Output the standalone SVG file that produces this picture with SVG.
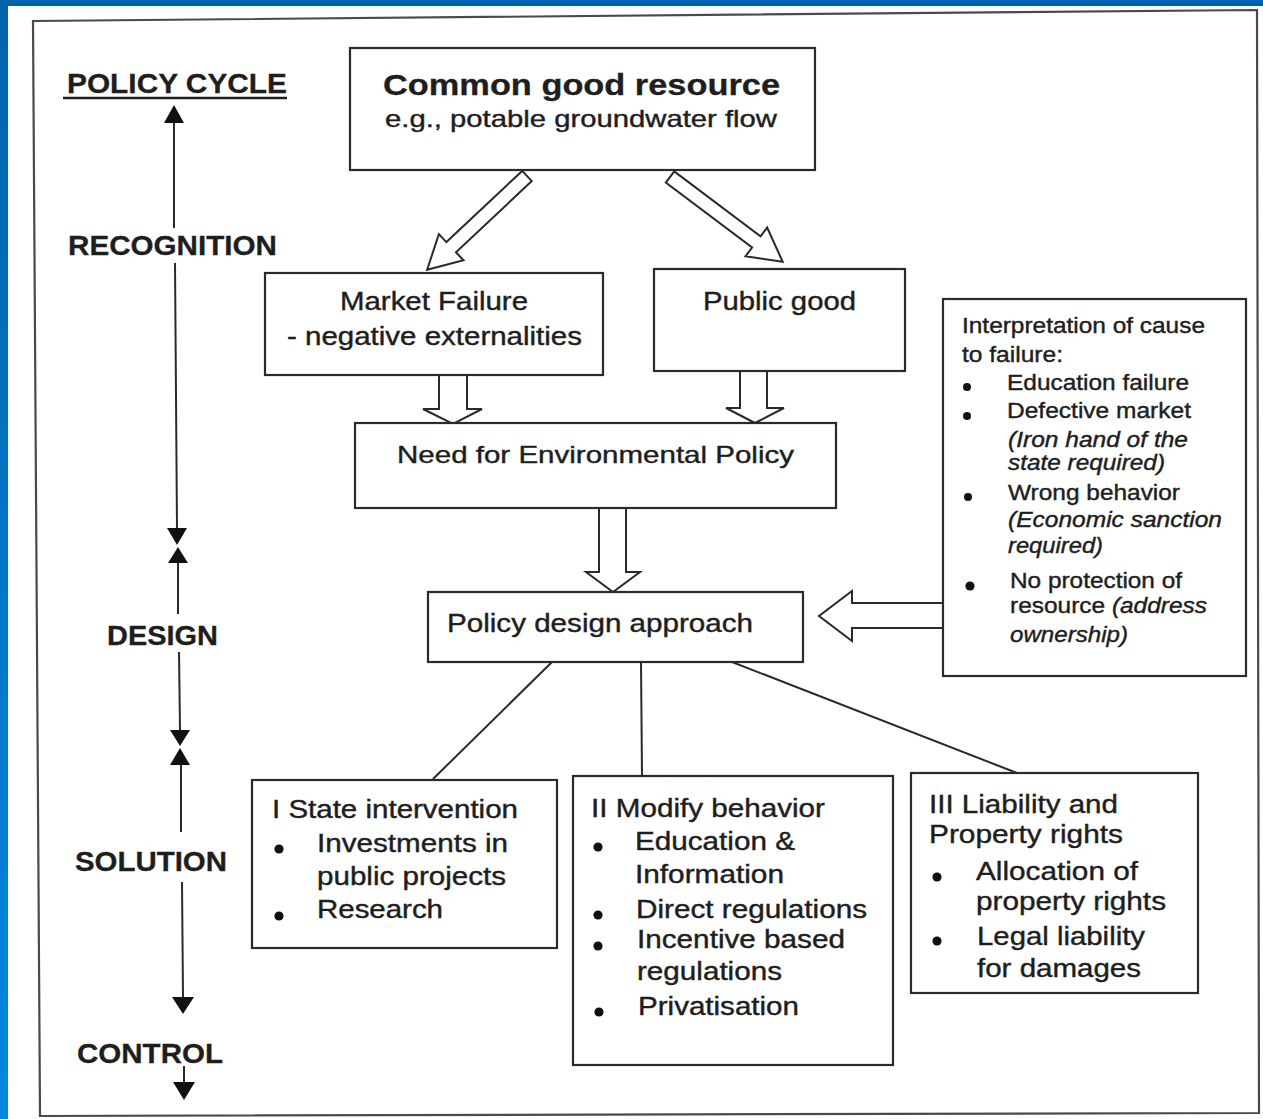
<svg xmlns="http://www.w3.org/2000/svg" width="1263" height="1119" viewBox="0 0 1263 1119">
<defs>
<linearGradient id="blueL" x1="0" y1="0" x2="0" y2="1">
<stop offset="0" stop-color="#0064AC"/>
<stop offset="1" stop-color="#0088E0"/>
</linearGradient>
</defs>
<style>
text{font-family:"Liberation Sans",Arial,sans-serif;fill:#1e1e1e;stroke:#1e1e1e;stroke-width:0.4}
.b{font-weight:bold;stroke-width:0.3}
.i{font-style:italic}
.box{fill:#fff;stroke:#2a2a2a;stroke-width:2.2}
.hollow{fill:#fff;stroke:#2a2a2a;stroke-width:2;stroke-linejoin:miter}
.ln{fill:none;stroke:#2a2a2a;stroke-width:2}
.tri{fill:#111}
.dot{fill:#111}
.f30{font-size:30px}
.f28{font-size:28px}
.f25{font-size:25px}
.f24{font-size:24px}
.f22{font-size:22px}
.f26{font-size:26px}
</style>
<rect x="0" y="0" width="1263" height="1119" fill="#fff"/>
<rect x="0" y="0" width="1263" height="6" fill="#0064AC"/>
<rect x="0" y="0" width="8" height="1119" fill="url(#blueL)"/>
<polygon points="33,21 1257,10 1259,1113 40,1116" fill="none" stroke="#4a4a4a" stroke-width="2.2"/>

<g id="policy-cycle-axis">
<text class="b f28" x="67" y="93" textLength="220" lengthAdjust="spacingAndGlyphs">POLICY CYCLE</text>
<line x1="63" y1="98" x2="287" y2="98" stroke="#1e1e1e" stroke-width="2.5"/>
<text class="b f28" x="68" y="255" textLength="209" lengthAdjust="spacingAndGlyphs">RECOGNITION</text>
<text class="b f28" x="107" y="645" textLength="111" lengthAdjust="spacingAndGlyphs">DESIGN</text>
<text class="b f28" x="75" y="871" textLength="152" lengthAdjust="spacingAndGlyphs">SOLUTION</text>
<text class="b f28" x="77" y="1063" textLength="146" lengthAdjust="spacingAndGlyphs">CONTROL</text>
<polygon class="tri" points="174,105 164,123 184,123"/>
<line class="ln" x1="174" y1="123" x2="174" y2="228"/>
<line class="ln" x1="175" y1="263" x2="177" y2="528"/>
<polygon class="tri" points="167,528 187,528 177,545"/>
<polygon class="tri" points="178,547 168,563 188,563"/>
<line class="ln" x1="178" y1="563" x2="178" y2="614"/>
<line class="ln" x1="179" y1="652" x2="180" y2="730"/>
<polygon class="tri" points="170,730 190,730 180,746"/>
<polygon class="tri" points="180,748 170,765 190,765"/>
<line class="ln" x1="181" y1="765" x2="181" y2="832"/>
<line class="ln" x1="182" y1="882" x2="183" y2="997"/>
<polygon class="tri" points="172,997 194,997 183,1014"/>
<line class="ln" x1="184" y1="1066" x2="184" y2="1082"/>
<polygon class="tri" points="173,1082 195,1082 184,1100"/>
</g>

<g id="connectors">
<polygon class="hollow" transform="translate(527,176) rotate(136.8)" points="0,-7 104,-7 104,-18 137,0 104,18 104,7 0,7"/>
<polygon class="hollow" transform="translate(670,177) rotate(36.95)" points="0,-7 108,-7 108,-18 141,0 108,18 108,7 0,7"/>
<polygon class="hollow" points="439,374 467,374 467,409 482,409 453,424 423,409 439,409"/>
<polygon class="hollow" points="740,370 767,370 767,408 784,408 755,423 726,408 740,408"/>
<polygon class="hollow" points="599,507 626,507 626,572 640,572 613,592 586,572 599,572"/>
<polygon class="hollow" points="945,603 852,603 852,591 819,616 852,641 852,628 945,628"/>
<line class="ln" x1="552" y1="662" x2="433" y2="779"/>
<line class="ln" x1="641" y1="662" x2="642" y2="776"/>
<line class="ln" x1="732" y1="662" x2="1017" y2="773"/>
</g>

<g id="common-good">
<rect class="box" x="350" y="48" width="465" height="122"/>
<text class="b f30" x="383" y="95" textLength="397" lengthAdjust="spacingAndGlyphs">Common good resource</text>
<text class="f24" x="385" y="127" textLength="392" lengthAdjust="spacingAndGlyphs">e.g., potable groundwater flow</text>
</g>

<g id="market-failure">
<rect class="box" x="265" y="273" width="338" height="102"/>
<text class="f25" x="340" y="310" textLength="188" lengthAdjust="spacingAndGlyphs">Market Failure</text>
<text class="f25" x="287" y="345" textLength="295" lengthAdjust="spacingAndGlyphs">- negative externalities</text>
</g>

<g id="public-good">
<rect class="box" x="654" y="269" width="251" height="102"/>
<text class="f25" x="703" y="310" textLength="153" lengthAdjust="spacingAndGlyphs">Public good</text>
</g>

<g id="need-policy">
<rect class="box" x="355" y="423" width="481" height="85"/>
<text class="f24" x="397" y="463" textLength="397" lengthAdjust="spacingAndGlyphs">Need for Environmental Policy</text>
</g>

<g id="policy-design">
<rect class="box" x="428" y="592" width="375" height="70"/>
<text class="f25" x="447" y="632" textLength="306" lengthAdjust="spacingAndGlyphs">Policy design approach</text>
</g>

<g id="interpretation">
<rect class="box" x="943" y="299" width="303" height="377"/>
<text class="f22" x="962" y="333" textLength="243" lengthAdjust="spacingAndGlyphs">Interpretation of cause</text>
<text class="f22" x="962" y="362" textLength="101" lengthAdjust="spacingAndGlyphs">to failure:</text>
<circle class="dot" cx="967" cy="387" r="4"/>
<text class="f22" x="1007" y="390" textLength="182" lengthAdjust="spacingAndGlyphs">Education failure</text>
<circle class="dot" cx="967" cy="416" r="4"/>
<text class="f22" x="1007" y="418" textLength="184" lengthAdjust="spacingAndGlyphs">Defective market</text>
<text class="f22 i" x="1008" y="447" textLength="180" lengthAdjust="spacingAndGlyphs">(Iron hand of the</text>
<text class="f22 i" x="1008" y="470" textLength="157" lengthAdjust="spacingAndGlyphs">state required)</text>
<circle class="dot" cx="968" cy="497" r="4"/>
<text class="f22" x="1008" y="500" textLength="172" lengthAdjust="spacingAndGlyphs">Wrong behavior</text>
<text class="f22 i" x="1008" y="527" textLength="214" lengthAdjust="spacingAndGlyphs">(Economic sanction</text>
<text class="f22 i" x="1008" y="553" textLength="95" lengthAdjust="spacingAndGlyphs">required)</text>
<circle class="dot" cx="970" cy="586" r="4.6"/>
<text class="f22" x="1010" y="588" textLength="172" lengthAdjust="spacingAndGlyphs">No protection of</text>
<text class="f22" x="1010" y="613" textLength="197" lengthAdjust="spacingAndGlyphs">resource <tspan class="i">(address</tspan></text>
<text class="f22 i" x="1010" y="642" textLength="118" lengthAdjust="spacingAndGlyphs">ownership)</text>
</g>

<g id="state-intervention">
<rect class="box" x="252" y="780" width="305" height="168"/>
<text class="f25" x="272" y="818" textLength="246" lengthAdjust="spacingAndGlyphs">I State intervention</text>
<circle class="dot" cx="279" cy="849" r="4.6"/>
<text class="f25" x="317" y="852" textLength="191" lengthAdjust="spacingAndGlyphs">Investments in</text>
<text class="f25" x="317" y="885" textLength="189" lengthAdjust="spacingAndGlyphs">public projects</text>
<circle class="dot" cx="279" cy="916" r="4.6"/>
<text class="f25" x="317" y="918" textLength="126" lengthAdjust="spacingAndGlyphs">Research</text>
</g>

<g id="modify-behavior">
<rect class="box" x="573" y="776" width="320" height="289"/>
<text class="f25" x="591" y="817" textLength="234" lengthAdjust="spacingAndGlyphs">II Modify behavior</text>
<circle class="dot" cx="598" cy="847" r="4.6"/>
<text class="f25" x="635" y="850" textLength="160" lengthAdjust="spacingAndGlyphs">Education &amp;</text>
<text class="f25" x="635" y="883" textLength="149" lengthAdjust="spacingAndGlyphs">Information</text>
<circle class="dot" cx="598" cy="915" r="4.6"/>
<text class="f25" x="636" y="918" textLength="231" lengthAdjust="spacingAndGlyphs">Direct regulations</text>
<circle class="dot" cx="598" cy="946" r="4.6"/>
<text class="f25" x="637" y="948" textLength="208" lengthAdjust="spacingAndGlyphs">Incentive based</text>
<text class="f25" x="637" y="980" textLength="145" lengthAdjust="spacingAndGlyphs">regulations</text>
<circle class="dot" cx="599" cy="1012" r="4.6"/>
<text class="f25" x="638" y="1015" textLength="161" lengthAdjust="spacingAndGlyphs">Privatisation</text>
</g>

<g id="liability-property">
<rect class="box" x="911" y="773" width="287" height="220"/>
<text class="f26" x="929" y="813" textLength="189" lengthAdjust="spacingAndGlyphs">III Liability and</text>
<text class="f26" x="929" y="843" textLength="194" lengthAdjust="spacingAndGlyphs">Property rights</text>
<circle class="dot" cx="937" cy="877" r="4.6"/>
<text class="f26" x="976" y="880" textLength="162" lengthAdjust="spacingAndGlyphs">Allocation of</text>
<text class="f26" x="976" y="910" textLength="190" lengthAdjust="spacingAndGlyphs">property rights</text>
<circle class="dot" cx="937" cy="941" r="4.6"/>
<text class="f26" x="977" y="945" textLength="168" lengthAdjust="spacingAndGlyphs">Legal liability</text>
<text class="f26" x="977" y="977" textLength="164" lengthAdjust="spacingAndGlyphs">for damages</text>
</g>
</svg>
